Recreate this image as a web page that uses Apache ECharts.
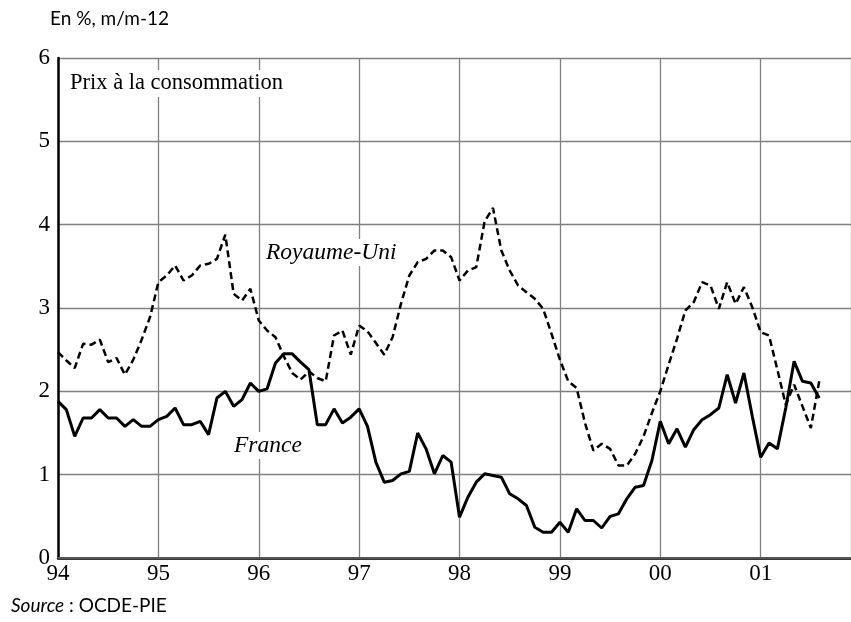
<!DOCTYPE html>
<html>
<head>
<meta charset="utf-8">
<title>Prix à la consommation</title>
<script src="https://cdn.jsdelivr.net/npm/echarts@6/dist/echarts.min.js"></script>
<style>
  html, body { margin: 0; padding: 0; background: #fff; }
  #chart { width: 851px; height: 622px; }
</style>
</head>
<body>
<div id="chart"></div>
<script>
// libellés des années (un tous les 12 mois, janvier 1994 = mois 0)
var yearLabels = ['94', '95', '96', '97', '98', '99', '00', '01'];
var yTicks = [0, 1, 2, 3, 4, 5, 6];

// glissement annuel des prix, mensuel de janvier 1994 à août 2001
var royaumeUni = [
  2.47, 2.37, 2.28, 2.57, 2.56, 2.62, 2.35, 2.40, 2.20, 2.38, 2.62, 2.89,
  3.31, 3.39, 3.51, 3.33, 3.39, 3.51, 3.53, 3.59, 3.88, 3.17, 3.09, 3.23,
  2.85, 2.73, 2.65, 2.42, 2.22, 2.14, 2.24, 2.16, 2.12, 2.67, 2.73, 2.44,
  2.79, 2.72, 2.58, 2.44, 2.65, 3.05, 3.39, 3.55, 3.59, 3.69, 3.69, 3.61,
  3.33, 3.45, 3.49, 4.04, 4.20, 3.69, 3.45, 3.27, 3.19, 3.11, 2.99, 2.69,
  2.38, 2.12, 2.04, 1.62, 1.29, 1.37, 1.31, 1.11, 1.11, 1.25, 1.46, 1.74,
  2.00, 2.32, 2.63, 2.97, 3.07, 3.31, 3.27, 2.99, 3.31, 3.05, 3.25, 3.01,
  2.71, 2.67, 2.26, 1.84, 2.08, 1.82, 1.56, 2.12
];
var france = [
  1.88, 1.78, 1.46, 1.68, 1.68, 1.78, 1.68, 1.68, 1.58, 1.66, 1.58, 1.58,
  1.66, 1.70, 1.80, 1.60, 1.60, 1.64, 1.48, 1.92, 2.00, 1.82, 1.90, 2.10,
  2.00, 2.03, 2.34, 2.45, 2.45, 2.35, 2.26, 1.60, 1.60, 1.79, 1.62, 1.69,
  1.79, 1.58, 1.15, 0.91, 0.93, 1.01, 1.04, 1.50, 1.31, 1.01, 1.23, 1.15,
  0.49, 0.73, 0.91, 1.01, 0.99, 0.97, 0.77, 0.71, 0.63, 0.37, 0.31, 0.31,
  0.43, 0.31, 0.59, 0.45, 0.45, 0.36, 0.50, 0.53, 0.71, 0.85, 0.87, 1.17,
  1.64, 1.37, 1.55, 1.33, 1.54, 1.66, 1.72, 1.80, 2.20, 1.86, 2.22, 1.70,
  1.21, 1.38, 1.31, 1.80, 2.36, 2.12, 2.10, 1.92
];

// [mois, valeur]
function toPoints(arr) {
  return arr.map(function (v, i) { return [i, v]; });
}

var serif = '"Liberation Serif", "Times New Roman", serif';
var sans = 'Lato, "Open Sans", sans-serif';

var chart = echarts.init(document.getElementById('chart'));

var option = {
  animation: false,
  backgroundColor: '#fff',
  grid: { left: 58, right: 0, top: 58, bottom: 64 },
  xAxis: [{
    type: 'value',
    min: 0,
    max: 94.8,
    interval: 12,
    axisLine: { show: true, onZero: false, lineStyle: { color: '#000', width: 2.5 } },
    axisTick: { show: false },
    axisLabel: {
      color: '#000',
      fontFamily: serif,
      fontSize: 23,
      margin: 4,
      showMaxLabel: false,
      formatter: function (v) {
        return yearLabels[Math.round(v / 12)] || '';
      }
    },
    splitLine: { show: true, lineStyle: { color: '#808080', width: 1.3 } }
  }, {
    // bord supérieur
    type: 'value',
    position: 'top',
    min: 0,
    max: 94.8,
    axisLine: { show: true, lineStyle: { color: '#555', width: 2.2 } },
    axisTick: { show: false },
    axisLabel: { show: false },
    splitLine: { show: false }
  }],
  yAxis: {
    type: 'value',
    min: yTicks[0],
    max: yTicks[yTicks.length - 1],
    interval: 1,
    axisLine: { show: true, lineStyle: { color: '#000', width: 2.5 } },
    axisTick: { show: false },
    axisLabel: {
      color: '#000',
      fontFamily: serif,
      fontSize: 23,
      margin: 8,
      padding: [7, 0, 0, 0]
    },
    splitLine: { show: true, lineStyle: { color: '#808080', width: 1.3 } }
  },
  series: [{
    name: 'Royaume-Uni',
    type: 'line',
    data: toPoints(royaumeUni),
    showSymbol: false,
    lineStyle: { color: '#000', width: 2.5, type: [7, 4] },
    z: 3
  }, {
    name: 'France',
    type: 'line',
    data: toPoints(france),
    showSymbol: false,
    lineStyle: { color: '#000', width: 3 },
    z: 4
  }],
  graphic: [{
    type: 'text', left: 50, top: 9, z: 10,
    style: { text: 'En %, m/m-12', font: '19px ' + sans, fill: '#000' }
  }, {
    type: 'text', left: 66, top: 70, z: 10,
    style: {
      text: 'Prix à la consommation', font: '22.5px ' + serif, fill: '#000',
      backgroundColor: '#fff', padding: [2, 4, 2, 4]
    }
  }, {
    type: 'text', left: 262, top: 239, z: 10,
    style: {
      text: 'Royaume-Uni', font: 'italic 23.5px ' + serif, fill: '#000',
      backgroundColor: '#fff', padding: [2, 4, 2, 4]
    }
  }, {
    type: 'text', left: 230, top: 432, z: 10,
    style: {
      text: 'France', font: 'italic 23.5px ' + serif, fill: '#000',
      backgroundColor: '#fff', padding: [2, 4, 2, 4]
    }
  }, {
    type: 'text', left: 11, top: 596, z: 10,
    style: {
      rich: {
        i: { fontFamily: sans, fontStyle: 'italic', fontSize: 19, fill: '#000' },
        n: { fontFamily: sans, fontSize: 19, fill: '#000' }
      },
      text: '{i|Source}{n| : OCDE-PIE}'
    }
  }]
};

chart.setOption(option);
</script>
</body>
</html>
